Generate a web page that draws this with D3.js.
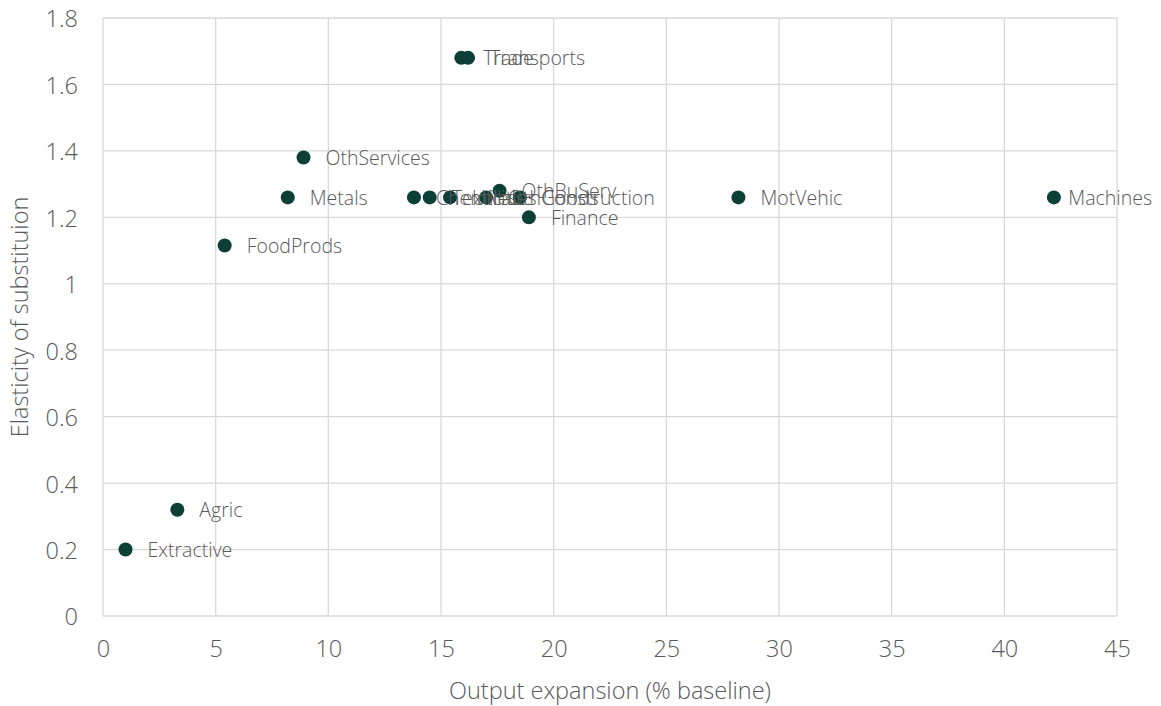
<!DOCTYPE html>
<html>
<head>
<meta charset="utf-8">
<script src="https://cdn.jsdelivr.net/npm/d3@7/dist/d3.min.js"></script>
<style>
  body { margin: 0; background: #fff; }
  svg { display: block; font-family: "Open Sans", "Noto Sans", sans-serif; font-weight: 300; }
</style>
</head>
<body>
<svg id="chart" width="1161" height="706"></svg>
<script>
// Sector-level results: output expansion vs. elasticity of substitution
const sectors = ["Extractive", "Agric", "FoodProds", "Metals", "OthServices", "Trade", "Transports",
  "Chemicals", "Textiles", "Utilities", "OthGoods", "OthBuServ", "Construction", "Finance", "MotVehic", "Machines"];
const outputExpansion = [1.0, 3.3, 5.4, 8.2, 8.9, 15.9, 16.2,
  13.8, 14.5, 15.4, 17.0, 17.6, 18.5, 18.9, 28.2, 42.2];
const elasticity = [0.20, 0.32, 1.115, 1.26, 1.38, 1.68, 1.68,
  1.26, 1.26, 1.26, 1.26, 1.28, 1.26, 1.20, 1.26, 1.26];

const xTicks = [0, 5, 10, 15, 20, 25, 30, 35, 40, 45];
const yTicks = [0, 0.2, 0.4, 0.6, 0.8, 1, 1.2, 1.4, 1.6, 1.8];

const svg = d3.select("#chart");
const margin = { left: 103, right: 44, top: 18, bottom: 90 };
const W = 1161, H = 706;

const x = d3.scaleLinear().domain([0, 45]).range([margin.left, W - margin.right]);
const y = d3.scaleLinear().domain([0, 1.8]).range([H - margin.bottom, margin.top]);

// gridlines
svg.append("g").selectAll("line").data(xTicks).join("line")
  .attr("x1", d => x(d)).attr("x2", d => x(d))
  .attr("y1", y(0)).attr("y2", y(1.8))
  .attr("stroke", "#d9d9d9").attr("stroke-width", 1.3);
svg.append("g").selectAll("line").data(yTicks).join("line")
  .attr("x1", x(0)).attr("x2", x(45))
  .attr("y1", d => y(d)).attr("y2", d => y(d))
  .attr("stroke", "#d9d9d9").attr("stroke-width", 1.3);

// axes (labels only; the gridlines frame the plot)
const xAxis = svg.append("g").attr("transform", `translate(0,${y(0)})`)
  .call(d3.axisBottom(x).tickValues(xTicks).tickSize(0).tickPadding(24));
const yAxis = svg.append("g").attr("transform", `translate(${x(0)},0)`)
  .call(d3.axisLeft(y).tickValues(yTicks).tickSize(0).tickPadding(25).tickFormat(d3.format("")));
[xAxis, yAxis].forEach(a => {
  a.select(".domain").remove();
  a.selectAll("text").attr("fill", "#595959").style("font-size", "23.5px")
    .style("font-family", "'Open Sans', 'Noto Sans', sans-serif").style("font-weight", 300);
});
yAxis.selectAll("text").attr("dy", "0.38em");

// axis titles
svg.append("text")
  .attr("x", (x(0) + x(45)) / 2).attr("y", 699)
  .attr("text-anchor", "middle").attr("fill", "#595959").style("font-size", "23.5px")
  .text("Output expansion (% baseline)");
svg.append("text")
  .attr("transform", `translate(28,${(y(0) + y(1.8)) / 2}) rotate(-90)`)
  .attr("text-anchor", "middle").attr("fill", "#595959").style("font-size", "23.5px")
  .text("Elasticity of substituion");

const data = sectors.map((s, i) => ({ name: s, xv: outputExpansion[i], yv: elasticity[i] }));

// points
svg.append("g").selectAll("circle").data(data).join("circle")
  .attr("cx", d => x(d.xv)).attr("cy", d => y(d.yv)).attr("r", 7)
  .attr("fill", "#0b3f37");

// data labels to the right of each point, kept inside the canvas
const labels = svg.append("g").selectAll("text").data(data).join("text")
  .attr("x", d => x(d.xv) + 22).attr("y", d => y(d.yv) + 7.5)
  .attr("fill", "#595959").style("font-size", "19.5px")
  .text(d => d.name);
labels.each(function () {
  const bb = this.getBBox();
  const overflow = bb.x + bb.width - (W - 9);
  if (overflow > 0) d3.select(this).attr("x", bb.x - overflow);
});
</script>
</body>
</html>
